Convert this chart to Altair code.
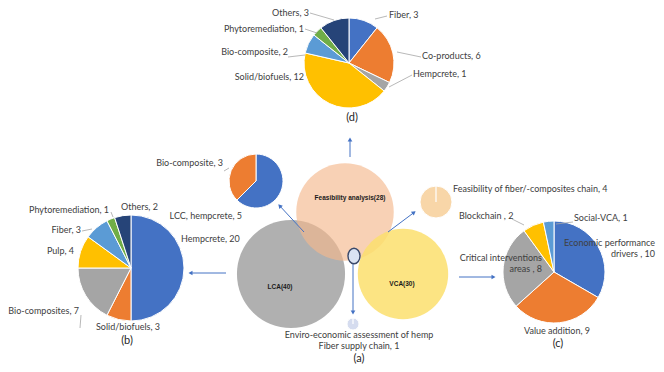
import math
import altair as alt
import pandas as pd

# ---------------- data ----------------
d_cats = ["Fiber", "Co-products", "Hempcrete", "Solid/biofuels", "Bio-composite", "Phytoremediation", "Others"]
d_vals = [3, 6, 1, 12, 2, 1, 3]

b_cats = ["Hempcrete", "Solid/biofuels", "Bio-composites", "Pulp", "Fiber", "Phytoremediation", "Others"]
b_vals = [20, 3, 7, 4, 3, 1, 2]

c_cats = ["Economic performance\ndrivers ", "Value addition", "Critical interventions\nareas ", "Blockchain ", "Social-VCA"]
c_vals = [10, 9, 8, 2, 1]

lcc_cats = ["LCC, hempcrete", "Bio-composite"]
lcc_vals = [5, 3]

feas_cats = ["Feasibility of fiber/-composites chain"]
feas_vals = [4]

env_cats = ["Enviro-economic assessment of  hemp\nFiber supply chain"]
env_vals = [1]

venn_sets = ["LCA", "Feasibility analysis", "VCA"]
venn_counts = [40, 28, 30]

panel_tags = ["(a)", "(b)", "(c)", "(d)"]

# ---------------- layout (page pixels) ----------------
OFF = 8
W, H = 664 - 2 * OFF, 372 - 2 * OFF


def P(v):
    return v - OFF


EXCEL = ["#4472c4", "#ed7d31", "#a5a5a5", "#ffc000", "#5b9bd5", "#70ad47", "#264478"]

PIES = {
    "d": dict(cx=349, cy=63, r=45),
    "b": dict(cx=131, cy=268, r=53),
    "c": dict(cx=554, cy=272, r=51),
    "lcc": dict(cx=256, cy=181, r=27),
    "feas": dict(cx=436, cy=202, r=16),
    "env": dict(cx=353, cy=324, r=6),
}

# (x, y of first line, align)
LABEL_POS = {
    "d": [(389, 15, "left"), (422, 56, "left"), (413, 74, "left"), (304, 77, "right"),
          (288, 52, "right"), (304, 29, "right"), (309, 13, "right")],
    "b": [(181, 239, "left"), (96, 327, "left"), (79, 311, "right"), (74, 251, "right"),
          (81, 230, "right"), (29, 210, "left"), (121, 207, "left")],
    "c": [(655, 243, "right"), (524, 331, "left"), (542, 258, "right"), (459, 216, "left"), (574, 218, "left")],
    "lcc": [(242, 216, "right"), (223, 163, "right")],
    "feas": [(453, 189, "left")],
    "env": [(359, 335, "center")],
}

TAG_POS = [(359, 359), (127, 341), (558, 344), (352, 118)]

VENN = [  # cx, cy, r, color, opacity, label position
    dict(cx=291, cy=274, r=61, color="#b0b0b0", op=1.0, lx=280, ly=287),
    dict(cx=345, cy=212, r=55, color="#f5b88e", op=0.65, lx=350, ly=198),
    dict(cx=403, cy=274, r=51, color="#fcdf6d", op=0.85, lx=402, ly=284),
]
VENN_DRAW_ORDER = [0, 1, 2]

ARROWS = [(350, 157, 350, 137), (226, 273, 188, 273), (459, 277, 496, 277),
          (353, 263, 353, 315), (304, 232, 278, 204), (388, 232, 416, 211)]

LEADERS = [(310, 13, 334, 20), (305, 29, 317, 33), (288, 57, 305, 55), (387, 16, 375, 19),
           (421, 57, 397, 52), (412, 75, 389, 87), (82, 231, 92, 229), (81, 315, 80, 328),
           (111, 212, 113, 217), (224, 171, 229, 168), (512, 219, 524, 225), (573, 222, 556, 224)]

WHITE_TICKS = [(436, 202, 436, 186), (353, 324, 353, 318)]

ELLIPSE = dict(cx=354, cy=256)

FONT = "Lato"
FS = 9.0
TXT = "#404040"

# ---------------- layers ----------------
layers = []

# Venn circles
for i in VENN_DRAW_ORDER:
    v = VENN[i]
    df = pd.DataFrame({"set": [venn_sets[i]], "count": [venn_counts[i]]})
    layers.append(
        alt.Chart(df).mark_circle(color=v["color"], opacity=v["op"]).encode(
            x=alt.value(P(v["cx"])), y=alt.value(P(v["cy"])),
            size=alt.value(math.pi * v["r"] ** 2),
        )
    )

# Venn labels
venn_lab = pd.DataFrame({
    "text": [f"{s}({c})" for s, c in zip(venn_sets, venn_counts)],
    "x": [P(v["lx"]) for v in VENN],
    "y": [P(v["ly"]) for v in VENN],
})
layers.append(
    alt.Chart(venn_lab).mark_text(fontSize=6.5, fontWeight="bold", font="Liberation Sans", color="#1a1a1a").encode(
        x=alt.X("x:Q", scale=None, axis=None), y=alt.Y("y:Q", scale=None, axis=None), text="text:N")
)


def pie_layer(cats, vals, key, single_color=None):
    g = PIES[key]
    df = pd.DataFrame({"cat": cats, "val": vals, "slot": list(range(len(cats)))})
    enc = dict(
        theta=alt.Theta("val:Q", stack=True),
        order=alt.Order("slot:Q"),
        x=alt.value(P(g["cx"])),
        y=alt.value(P(g["cy"])),
    )
    if single_color:
        enc["color"] = alt.value(single_color)
    else:
        enc["color"] = alt.Color("slot:N", scale=alt.Scale(domain=list(range(7)), range=EXCEL), legend=None)
    return alt.Chart(df).mark_arc(outerRadius=g["r"], stroke="white", strokeWidth=1).encode(**enc)


layers.append(pie_layer(d_cats, d_vals, "d"))
layers.append(pie_layer(b_cats, b_vals, "b"))
layers.append(pie_layer(c_cats, c_vals, "c"))
layers.append(pie_layer(lcc_cats, lcc_vals, "lcc"))
layers.append(pie_layer(feas_cats, feas_vals, "feas", "#f8d6a8"))
layers.append(pie_layer(env_cats, env_vals, "env", "#d5dcef"))

# white radial ticks on the single-slice pies
ticks = pd.DataFrame([dict(x=P(a), y=P(b), x2=P(c), y2=P(d)) for a, b, c, d in WHITE_TICKS])
layers.append(alt.Chart(ticks).mark_rule(color="white", strokeWidth=1.2).encode(
    x=alt.X("x:Q", scale=None, axis=None), y=alt.Y("y:Q", scale=None, axis=None), x2="x2:Q", y2="y2:Q"))

# leader lines
lead = pd.DataFrame([dict(x=P(a), y=P(b), x2=P(c), y2=P(d)) for a, b, c, d in LEADERS])
layers.append(alt.Chart(lead).mark_rule(color="#a6a6a6", strokeWidth=0.8).encode(
    x=alt.X("x:Q", scale=None, axis=None), y=alt.Y("y:Q", scale=None, axis=None), x2="x2:Q", y2="y2:Q"))

# arrows
arr_rows, head_rows = [], []
for a, b, c, d in ARROWS:
    dx, dy = c - a, d - b
    L = math.hypot(dx, dy)
    ux, uy = dx / L, dy / L
    arr_rows.append(dict(x=P(a), y=P(b), x2=P(c - ux * 2), y2=P(d - uy * 2)))
    ang = math.degrees(math.atan2(dx, -dy)) % 360
    head_rows.append(dict(x=P(c - ux * 2.5), y=P(d - uy * 2.5), ang=ang))
layers.append(alt.Chart(pd.DataFrame(arr_rows)).mark_rule(color="#4472c4", strokeWidth=1).encode(
    x=alt.X("x:Q", scale=None, axis=None), y=alt.Y("y:Q", scale=None, axis=None), x2="x2:Q", y2="y2:Q"))
layers.append(alt.Chart(pd.DataFrame(head_rows)).mark_point(shape="triangle-up", filled=True, color="#4472c4",
                                                            opacity=1, size=22).encode(
    x=alt.X("x:Q", scale=None, axis=None), y=alt.Y("y:Q", scale=None, axis=None),
    angle=alt.Angle("ang:Q", scale=None)))

# center ellipse
layers.append(alt.Chart(pd.DataFrame({"k": ["hub"]})).mark_point(
    shape="M0,-1A0.77,1,0,1,1,0,1A0.77,1,0,1,1,0,-1Z", filled=True, fill="#dae3f3",
    stroke="#3b4a6b", strokeWidth=1.4, opacity=1, size=243).encode(
    x=alt.value(P(ELLIPSE["cx"])), y=alt.value(P(ELLIPSE["cy"]))))

# pie labels
rows = []
for key, cats, vals in [("d", d_cats, d_vals), ("b", b_cats, b_vals), ("c", c_cats, c_vals),
                        ("lcc", lcc_cats, lcc_vals), ("feas", feas_cats, feas_vals), ("env", env_cats, env_vals)]:
    for (x, y, al), cat, val in zip(LABEL_POS[key], cats, vals):
        rows.append(dict(text=f"{cat}, {val}", x=P(x), y=P(y), align=al))
labdf = pd.DataFrame(rows)
for al in ["left", "right", "center"]:
    sub = labdf[labdf["align"] == al]
    layers.append(alt.Chart(sub).mark_text(align=al, baseline="middle", fontSize=FS, font=FONT, color=TXT,
                                           lineBreak="\n", lineHeight=11).encode(
        x=alt.X("x:Q", scale=None, axis=None), y=alt.Y("y:Q", scale=None, axis=None), text="text:N"))

# panel tags
tagdf = pd.DataFrame({"text": panel_tags, "x": [P(p[0]) for p in TAG_POS], "y": [P(p[1]) for p in TAG_POS]})
layers.append(alt.Chart(tagdf).mark_text(baseline="middle", fontSize=11, font=FONT, color="#262626").encode(
    x=alt.X("x:Q", scale=None, axis=None), y=alt.Y("y:Q", scale=None, axis=None), text="text:N"))

chart = alt.layer(*layers).resolve_scale(theta="independent").properties(
    width=W, height=H, autosize=alt.AutoSizeParams(type="none"), padding=0
).configure_view(stroke=None)

chart.save("out.html", embed_options={"renderer": "svg", "actions": False})
